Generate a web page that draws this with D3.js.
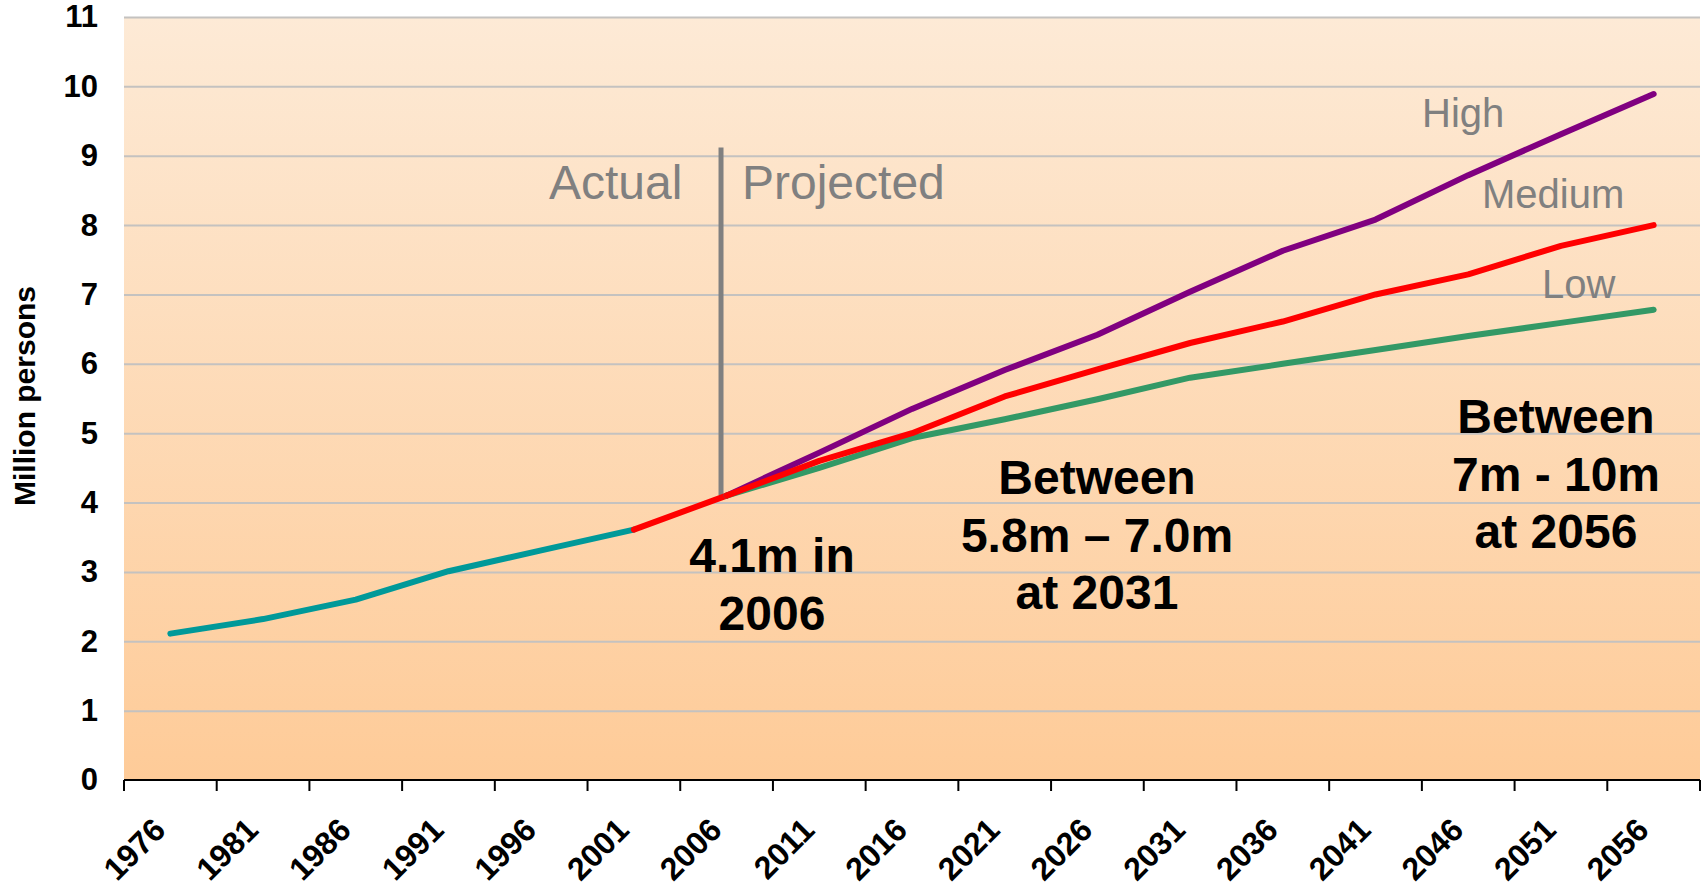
<!DOCTYPE html>
<html>
<head>
<meta charset="utf-8">
<script src="https://cdn.jsdelivr.net/npm/d3@7"></script>
<style>
  html, body { margin: 0; padding: 0; background: #fff; }
  svg { display: block; font-family: "Liberation Sans", Arial, sans-serif; }
  .grid line { stroke: #c4c2c0; stroke-width: 2; }
  .xaxis text, .yaxis text { font-weight: bold; fill: #000; }
  .series { fill: none; stroke-width: 6; stroke-linejoin: round; stroke-linecap: round; }
  .scenario { fill: #808080; font-size: 40px; }
  .period { fill: #808080; font-size: 48px; }
  .note { font-weight: bold; font-size: 48px; fill: #000; text-anchor: middle; }
</style>
</head>
<body>
<div id="chart"></div>
<script>
// categories (5-year steps)
const years = [1976, 1981, 1986, 1991, 1996, 2001, 2006, 2011, 2016, 2021, 2026, 2031, 2036, 2041, 2046, 2051, 2056];
const yTicks = [0, 1, 2, 3, 4, 5, 6, 7, 8, 9, 10, 11];

// actual population, million persons
const actualYears = [1976, 1981, 1986, 1991, 1996, 2001];
const actualValues = [2.11, 2.32, 2.60, 3.01, 3.31, 3.61];

// red link from the last actual point to 2006
const linkYears = [2001, 2006];
const linkValues = [3.61, 4.1];

// projections
const projYears = [2006, 2011, 2016, 2021, 2026, 2031, 2036, 2041, 2046, 2051, 2056];
const highValues = [4.1, 4.72, 5.35, 5.91, 6.42, 7.04, 7.63, 8.08, 8.72, 9.31, 9.89];
const mediumValues = [4.1, 4.6, 5.0, 5.53, 5.92, 6.30, 6.61, 7.0, 7.29, 7.7, 8.0];
const lowValues = [4.1, 4.5, 4.93, 5.2, 5.49, 5.8, 6.0, 6.2, 6.4, 6.59, 6.78];

// divider between actual and projected (drawn a touch before the 2006 point)
const dividerYear = 2005.7;
const dividerRange = [4.1, 9.12];

const noteBase = ["4.1m in", "2006"];
const noteMid = ["Between", "5.8m \u2013 7.0m", "at 2031"];
const noteEnd = ["Between", "7m - 10m", "at 2056"];

const W = 1702, H = 888;
const plot = {left: 124, right: 1700, top: 17, bottom: 780};

const svg = d3.select('#chart').append('svg')
    .attr('width', W)
    .attr('height', H);

const x = d3.scaleBand().domain(years).range([plot.left, plot.right]).padding(0);
const xc = yr => x(yr) + x.bandwidth() / 2;
// continuous year scale through the category centres
const xYear = d3.scaleLinear()
    .domain([years[0], years[years.length - 1]])
    .range([xc(years[0]), xc(years[years.length - 1])]);
const y = d3.scaleLinear().domain([0, 11]).range([plot.bottom, plot.top]);

// background gradient
const defs = svg.append('defs');
const grad = defs.append('linearGradient')
    .attr('id', 'bg')
    .attr('x1', '0%').attr('y1', '0%')
    .attr('x2', '0%').attr('y2', '100%');
grad.append('stop').attr('offset', '0%').attr('stop-color', '#fdead6');
grad.append('stop').attr('offset', '100%').attr('stop-color', '#fecb98');

svg.append('rect')
    .attr('x', plot.left)
    .attr('y', plot.top)
    .attr('width', plot.right - plot.left)
    .attr('height', plot.bottom - plot.top)
    .attr('fill', 'url(#bg)');

// horizontal grid
svg.append('g')
    .attr('class', 'grid')
    .attr('transform', 'translate(' + plot.left + ',0)')
    .call(d3.axisLeft(y).tickValues(yTicks.filter(d => d > 0)).tickFormat('').tickSize(-(plot.right - plot.left)))
    .call(g => g.select('.domain').remove());

// y axis labels
svg.append('g')
    .attr('class', 'yaxis')
    .attr('transform', 'translate(98,0)')
    .call(d3.axisLeft(y).tickValues(yTicks).tickSize(0).tickPadding(0))
    .call(g => g.select('.domain').remove())
    .selectAll('text')
    .style('font-size', '31px');

svg.append('text')
    .attr('transform', 'translate(35,' + ((282 + 510) / 2) + ') rotate(-90)')
    .attr('text-anchor', 'middle')
    .style('font-weight', 'bold')
    .style('font-size', '30px')
    .text('Million persons');

// x axis: line, boundary ticks, rotated labels
const xg = svg.append('g').attr('class', 'xaxis');
xg.append('line')
    .attr('x1', plot.left).attr('x2', plot.right)
    .attr('y1', plot.bottom).attr('y2', plot.bottom)
    .attr('stroke', '#000').attr('stroke-width', 2);
const edges = years.map(d => x(d)).concat([x(years[years.length - 1]) + x.bandwidth()]);
xg.selectAll('.tick-mark')
    .data(edges)
    .join('line')
    .attr('class', 'tick-mark')
    .attr('x1', d => d).attr('x2', d => d)
    .attr('y1', plot.bottom).attr('y2', plot.bottom + 11)
    .attr('stroke', '#000').attr('stroke-width', 2);
xg.selectAll('.xlabel')
    .data(years)
    .join('text')
    .attr('class', 'xlabel')
    .attr('transform', d => 'translate(' + (xc(d) - 3) + ',832) rotate(-45)')
    .attr('text-anchor', 'end')
    .style('font-size', '32px')
    .text(d => d);

// divider
svg.append('line')
    .attr('x1', xYear(dividerYear)).attr('x2', xYear(dividerYear))
    .attr('y1', y(dividerRange[0])).attr('y2', y(dividerRange[1]))
    .attr('stroke', '#808080').attr('stroke-width', 5);

// series
const line = d3.line().x(d => xc(d.year)).y(d => y(d.value));
const zip = (ys, vs) => ys.map((yr, i) => ({year: yr, value: vs[i]}));

const series = [
    {data: zip(actualYears, actualValues), color: '#009999'},
    {data: zip(linkYears, linkValues), color: '#ff0000'},
    {data: zip(projYears, highValues), color: '#800080'},
    {data: zip(projYears, lowValues), color: '#339966'},
    {data: zip(projYears, mediumValues), color: '#ff0000'}
];
svg.append('g').selectAll('path')
    .data(series)
    .join('path')
    .attr('class', 'series')
    .attr('stroke', d => d.color)
    .attr('d', d => line(d.data));

// text labels
svg.append('text').attr('class', 'period').attr('x', 549).attr('y', 199).text('Actual');
svg.append('text').attr('class', 'period').attr('x', 742).attr('y', 199).text('Projected');

svg.append('text').attr('class', 'scenario').attr('x', 1422).attr('y', 127).text('High');
svg.append('text').attr('class', 'scenario').attr('x', 1482).attr('y', 208).text('Medium');
svg.append('text').attr('class', 'scenario').attr('x', 1542).attr('y', 298).text('Low');

const drawNote = (lines, cx, y0) => {
    svg.append('g').selectAll('text')
        .data(lines)
        .join('text')
        .attr('class', 'note')
        .attr('x', cx)
        .attr('y', (d, i) => y0 + i * 57.5)
        .text(d => d);
};
drawNote(noteBase, 772, 572);
drawNote(noteMid, 1097, 494);
drawNote(noteEnd, 1556, 433);
</script>
</body>
</html>
